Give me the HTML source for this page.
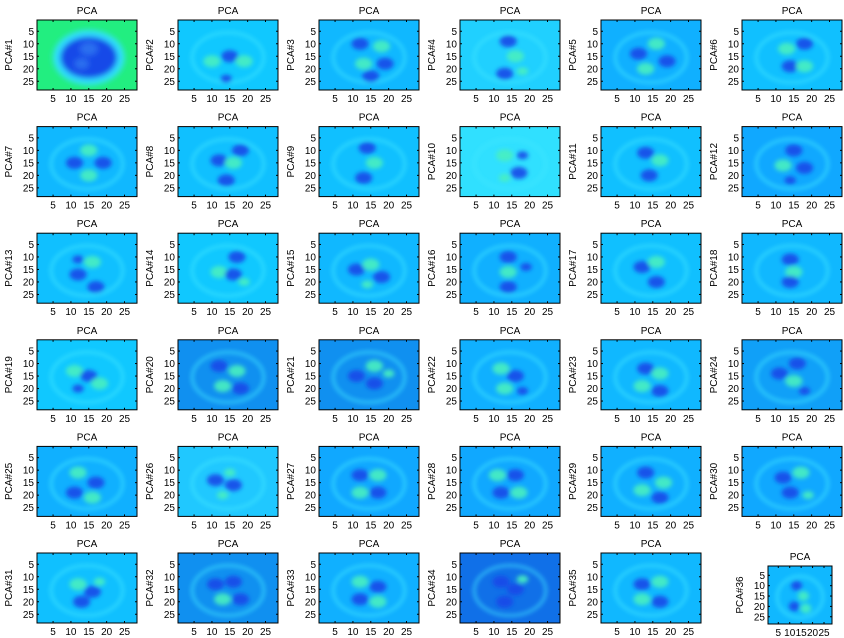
<!DOCTYPE html>
<html><head><meta charset="utf-8"><style>
body{margin:0;background:#fff;}
svg{display:block;font-family:"Liberation Sans",sans-serif;}
</style></head><body>
<svg id="fig" width="844" height="638" viewBox="0 0 844 638" xmlns="http://www.w3.org/2000/svg">
<defs>
<filter id="bl" x="-50%" y="-50%" width="200%" height="200%"><feGaussianBlur stdDeviation="3"/></filter>
<filter id="bl2" x="-50%" y="-50%" width="200%" height="200%"><feGaussianBlur stdDeviation="2.2"/></filter>
</defs>
</svg>
<script>
// panel background colors (jet colormap value at zero)
const bgColors=["#22ee80","#10c8ff","#10b8ff","#20d0ff","#10b0ff","#10c0ff","#10b8ff","#10c0ff","#10c0ff","#30e0ff","#10c0ff","#10a8ff","#10c0ff","#10c8ff","#10b8ff","#10b0ff","#10c0ff","#10b8ff","#10c8ff","#1090f0","#1090f0","#10b0ff","#10b8ff","#10a0f8","#10b0ff","#20c8ff","#10a8ff","#10a8ff","#10b0ff","#10a8ff","#10c0ff","#1090f0","#10b0ff","#1070e8","#10b8ff","#10b8ff"];
// blobs: [x,y,r,type] in image coords (1..28), type d=dark blue, g=green, l=light cyan
const blobs=[
[[15,15.5,8,"d"],[15,12,2.5,"l"],[13,18,2,"l"]],
[[15,15,3,"d"],[10,17,3,"g"],[19,17,3,"g"],[14,24,2,"d"]],
[[12,10,3,"d"],[18,11,3,"g"],[13,18,3,"g"],[19,18,3,"d"],[15,23,3,"d"]],
[[14,9,3,"d"],[16,15,3,"g"],[13,22,3,"d"],[18,21,2,"g"]],
[[11,14,3,"d"],[16,10,3,"g"],[19,17,3,"d"],[13,20,3,"g"]],
[[13,12,3,"g"],[18,10,3,"d"],[14,19,3,"d"],[18,19,3,"g"]],
[[15,10,3,"g"],[11,15,3,"d"],[15,20,3,"g"],[19,15,3,"d"]],
[[12,14,3,"d"],[16,15,3,"g"],[18,10,3,"d"],[14,22,3,"d"]],
[[14,9,3,"d"],[16,15,3,"g"],[13,21,3,"d"]],
[[13,12,3,"g"],[17,19,3,"d"],[13,21,2,"g"],[18,12,2,"d"]],
[[13,11,3,"d"],[17,14,3,"g"],[14,20,3,"d"]],
[[15,10,3,"d"],[12,16,3,"g"],[18,17,3,"d"],[14,22,2,"d"]],
[[12,17,3,"d"],[16,12,3,"g"],[17,22,3,"d"],[12,11,2,"d"]],
[[12,16,3,"g"],[17,10,3,"d"],[16,17,3,"d"],[19,20,2,"g"]],
[[11,15,3,"d"],[15,13,3,"g"],[18,18,3,"d"],[14,21,2,"g"]],
[[14,10,3,"d"],[14,16,3,"g"],[14,22,3,"d"],[19,14,2,"d"]],
[[12,14,3,"d"],[16,12,3,"g"],[16,20,3,"d"]],
[[14,11,3,"d"],[15,16,3,"g"],[14,20,3,"d"]],
[[11,13,3,"g"],[15,15,3,"d"],[18,18,3,"g"],[12,20,2,"d"]],
[[12,11,3,"d"],[17,13,3,"g"],[13,19,3,"g"],[18,20,3,"d"]],
[[11,15,3,"d"],[16,11,3,"g"],[16,18,3,"d"],[20,14,2,"g"]],
[[12,12,3,"g"],[16,15,3,"d"],[13,20,3,"g"],[18,21,2,"d"]],
[[13,12,3,"d"],[17,14,3,"g"],[12,19,3,"g"],[17,21,3,"d"]],
[[11,14,3,"d"],[16,10,3,"d"],[15,17,3,"g"],[18,21,2,"d"]],
[[12,11,3,"g"],[17,15,3,"d"],[11,19,3,"d"],[16,21,3,"g"]],
[[11,14,3,"d"],[16,16,3,"d"],[15,11,2,"g"],[13,20,2,"g"]],
[[12,12,3,"d"],[17,12,3,"g"],[12,19,3,"g"],[17,19,3,"d"]],
[[11,12,3,"g"],[16,12,3,"d"],[12,19,3,"d"],[17,19,3,"g"]],
[[13,11,3,"d"],[18,15,3,"g"],[12,18,3,"g"],[17,21,3,"d"]],
[[12,13,3,"d"],[17,11,3,"g"],[14,19,3,"d"],[19,20,2,"g"]],
[[12,13,3,"g"],[16,16,3,"d"],[13,20,3,"d"],[18,12,2,"g"]],
[[11,13,3,"d"],[16,12,3,"d"],[13,19,3,"g"],[18,19,3,"d"]],
[[12,12,3,"g"],[17,14,3,"d"],[12,19,3,"d"],[17,20,3,"g"]],
[[12,12,3,"d"],[16,15,3,"d"],[13,20,3,"d"],[18,11,2,"g"]],
[[12,13,3,"d"],[17,12,3,"g"],[12,19,3,"g"],[17,20,3,"d"]],
[[13,10,3,"d"],[16,15,3,"g"],[12,20,3,"d"],[17,21,3,"g"]]
];
const blobColors={d:'#1848e8',g:'#48f0c0',l:'#2a70f0'};
const ticks=[5,10,15,20,25];
const colX=[37,178,319,460,601,742];
const rowY=[20,126.6,233.2,339.8,446.4,553];
const W=100,H=70;
const NS="http://www.w3.org/2000/svg";
const svg=document.getElementById('fig');
function mk(t,a,p){const e=document.createElementNS(NS,t);for(const k in a)e.setAttribute(k,a[k]);(p||svg).appendChild(e);return e;}
for(let i=0;i<36;i++){
  let x0=colX[i%6],y0=rowY[Math.floor(i/6)],w=W,h=H;
  if(i===35){x0=768;y0=566;w=64;h=58;}
  const sx=v=>x0+(v-0.5)*w/28, sy=v=>y0+(v-0.5)*h/28;
  const g=mk('g',{});
  
  
  const cid='c'+i;
  const cp=mk('clipPath',{id:cid},g);mk('rect',{x:x0,y:y0,width:w,height:h},cp);
  const img=mk('g',{'clip-path':'url(#'+cid+')'},g);
  
  
  mk('rect',{x:x0,y:y0,width:w,height:h,fill:bgColors[i]},img);
  const bg=mk('g',{filter:i===0?'url(#bl)':'url(#bl2)'},img);
  if(i===0){mk('ellipse',{cx:sx(15),cy:sy(15.5),rx:10*w/28,ry:11*h/28,fill:'#30e0ff'},bg);}
  else {mk('ellipse',{cx:sx(14.5),cy:sy(15.5),rx:10*w/28,ry:10*h/28,fill:'none',stroke:'#40e8ff','stroke-width':3,opacity:0.6},bg);}
  blobs[i].forEach(b=>{
    const f=i===0?1:0.8;
    const c=mk('ellipse',{cx:sx(b[0]),cy:sy(b[1]),rx:b[2]*f*w/28,ry:b[2]*f*h/28*(i===0?1.05:1),fill:blobColors[b[3]],opacity:i===0?1:0.9},bg);
    
    
  });
  mk('rect',{x:x0,y:y0,width:w,height:h,fill:'none',stroke:'#000','stroke-width':1},g);
  ticks.forEach(t=>{
    mk('line',{x1:sx(t),x2:sx(t),y1:y0+h,y2:y0+h-2,stroke:'#000'},g);
    mk('line',{x1:sx(t),x2:sx(t),y1:y0,y2:y0+2,stroke:'#000'},g);
    mk('line',{x1:x0,x2:x0+2,y1:sy(t),y2:sy(t),stroke:'#000'},g);
    mk('line',{x1:x0+w,x2:x0+w-2,y1:sy(t),y2:sy(t),stroke:'#000'},g);
    const tx=mk('text',{x:sx(t),y:y0+h+12,'font-size':10,'text-anchor':'middle'},g);tx.textContent=t;
    
    
    const ty=mk('text',{x:x0-3,y:sy(t)+3.5,'font-size':10,'text-anchor':'end'},g);ty.textContent=t;
    
    
  });
  const tt=mk('text',{x:x0+w/2,y:y0-6,'font-size':10,'text-anchor':'middle'},g);tt.textContent='PCA';
  
  
  const yl=mk('text',{x:0,y:0,'font-size':10,'text-anchor':'middle',transform:`translate(${x0-25},${y0+h/2}) rotate(-90)`},g);yl.textContent='PCA#'+(i+1);
  
  
}
</script>
</body></html>
